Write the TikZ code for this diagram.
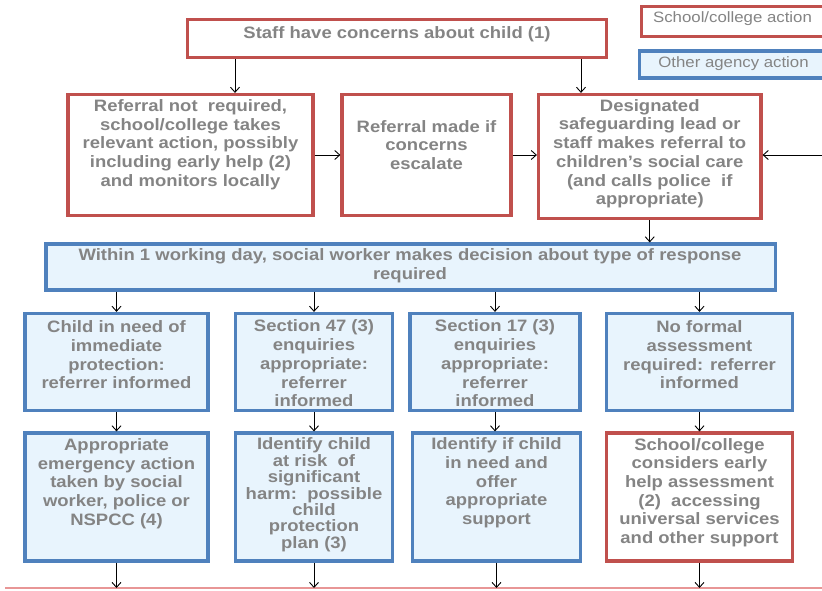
\documentclass[tikz,border=0pt]{standalone}
\usepackage{fontspec}
\setmainfont{Liberation Sans}[FakeStretch=1.12]
\usepackage{tikz}
\usetikzlibrary{arrows.meta}
\usepackage{xcolor}
\definecolor{schoolred}{RGB}{192,80,77}
\definecolor{agencyblue}{RGB}{79,129,189}
\definecolor{agencyfill}{RGB}{232,244,253}
\definecolor{textgray}{RGB}{132,132,132}
\definecolor{linepink}{RGB}{232,150,150}

\begin{document}
\begin{tikzpicture}[x=1pt,y=1pt,
  schoolbox/.style={draw=schoolred,line width=3.2pt,fill=white,inner sep=0pt},
  agencybox/.style={draw=agencyblue,line width=3.2pt,fill=agencyfill,inner sep=0pt},
  boxtext/.style={text=textgray,font=\fontsize{16.5}{18.7}\selectfont\bfseries,align=center,inner sep=0pt},
  tighttext/.style={boxtext,font=\fontsize{16.5}{16.4}\selectfont\bfseries},
  legendtext/.style={text=textgray,font=\fontsize{15}{18}\selectfont,inner sep=0pt},
  arr/.style={-{Straight Barb[length=5pt,width=9pt]},line width=0.9pt,black}]
\useasboundingbox (0,0) rectangle (822,590);
\clip (0,0) rectangle (822,590);
\fill[white] (0,0) rectangle (822,590);
% Legend
\node[schoolbox,minimum width=200,minimum height=30,anchor=west] (legschool) at (639.5,568.5) {};
\node[legendtext] (legschool-t) at (732.5,571.7) {School/college action};
\node[agencybox,minimum width=200,minimum height=27,anchor=west] (legother) at (638,525.5) {};
\node[legendtext] (legother-t) at (733.5,526.5) {Other agency action};
% Top row
\node[schoolbox,minimum width=419,minimum height=38] (staff) at (397,551.5) {};
\node[boxtext] (staff-t) at (397,556) {Staff have concerns about child (1)};
% Second row: school/college boxes
\node[schoolbox,minimum width=245,minimum height=121] (notreq) at (190.5,435) {};
\node[boxtext] (notreq-t) at (190.5,445.4) {Referral not\ \ required,\\school/college takes\\relevant action, possibly\\including early help (2)\\and monitors locally};
\node[schoolbox,minimum width=169,minimum height=121] (escalate) at (426.5,435) {};
\node[boxtext] (escalate-t) at (426.5,445) {Referral made if\\concerns\\escalate};
\node[schoolbox,minimum width=222.5,minimum height=124] (referral) at (649.75,433.5) {};
\node[boxtext] (referral-t) at (649.75,436.3) {Designated\\safeguarding lead or\\staff makes referral to\\children’s social care\\(and calls police\ \ if\\appropriate)};
% Decision
\node[agencybox,minimum width=729.5,minimum height=46] (decision) at (410.75,323) {};
\node[boxtext] (decision-t) at (410,324.2) {Within 1 working day, social worker makes decision about type of response\\required};
% Fourth row
\node[agencybox,minimum width=183,minimum height=97] (protect) at (116.5,228) {};
\node[boxtext] (protect-t) at (116.5,235.2) {Child in need of\\immediate\\protection:\\referrer informed};
\node[agencybox,minimum width=157,minimum height=97] (sec47) at (314,228) {};
\node[boxtext] (sec47-t) at (314,226.5) {Section 47 (3)\\enquiries\\appropriate:\\referrer\\informed};
\node[agencybox,minimum width=170,minimum height=97] (sec17) at (495,228) {};
\node[boxtext] (sec17-t) at (495,226.5) {Section 17 (3)\\enquiries\\appropriate:\\referrer\\informed};
\node[agencybox,minimum width=186,minimum height=97] (noassess) at (699.5,228) {};
\node[boxtext] (noassess-t) at (699.5,235.2) {No formal\\assessment\\required: referrer\\informed};
% Fifth row
\node[agencybox,minimum width=183,minimum height=128] (emerg) at (116.5,93) {};
\node[boxtext] (emerg-t) at (116.5,106.3) {Appropriate\\emergency action\\taken by social\\worker, police or\\NSPCC (4)};
\node[agencybox,minimum width=157,minimum height=128] (harm) at (314,93) {};
\node[tighttext] (harm-t) at (314,95.1) {Identify child\\at risk\ \ of\\significant\\harm:\ \ possible\\child\\protection\\plan (3)};
\node[agencybox,minimum width=168,minimum height=128] (needsupp) at (496.5,93) {};
\node[boxtext] (needsupp-t) at (496.5,107) {Identify if child\\in need and\\offer\\appropriate\\support};
\node[schoolbox,minimum width=186,minimum height=128] (earlyhelp) at (699.5,93) {};
\node[boxtext] (earlyhelp-t) at (699.5,97.5) {School/college\\considers early\\help assessment\\(2)\ \ accessing\\universal services\\and other support};
% Drawing arrows
\draw[arr] ([xshift=-162pt]staff.south) -- ([xshift=-162pt]staff.south |- notreq.north);
\draw[arr] ([xshift=184pt]staff.south) -- ([xshift=184pt]staff.south |- referral.north);
\draw[arr] (notreq.east) -- (escalate.west);
\draw[arr] (escalate.east) -- (escalate.east -| referral.west);
\coordinate (rightin) at (822,435);
\draw[arr] (rightin) -- (rightin -| referral.east);
\draw[arr] (referral.south) -- (referral.south |- decision.north);
\foreach \b in {protect,sec47,sec17,noassess}
  \draw[arr] (decision.south -| \b.north) -- (\b.north);
\foreach \a/\b in {protect/emerg,sec47/harm,sec17/needsupp,noassess/earlyhelp}
  \draw[arr] (\a.south) -- (\a.south |- \b.north);
% Bottom line
\coordinate (lineL) at (5,2);
\coordinate (lineR) at (822,2);
\draw[linepink,line width=2pt] (lineL) -- (lineR);
\foreach \b in {emerg,harm,needsupp,earlyhelp}
  \draw[arr] (\b.south) -- (\b.south |- lineL);
\end{tikzpicture}
\end{document}
